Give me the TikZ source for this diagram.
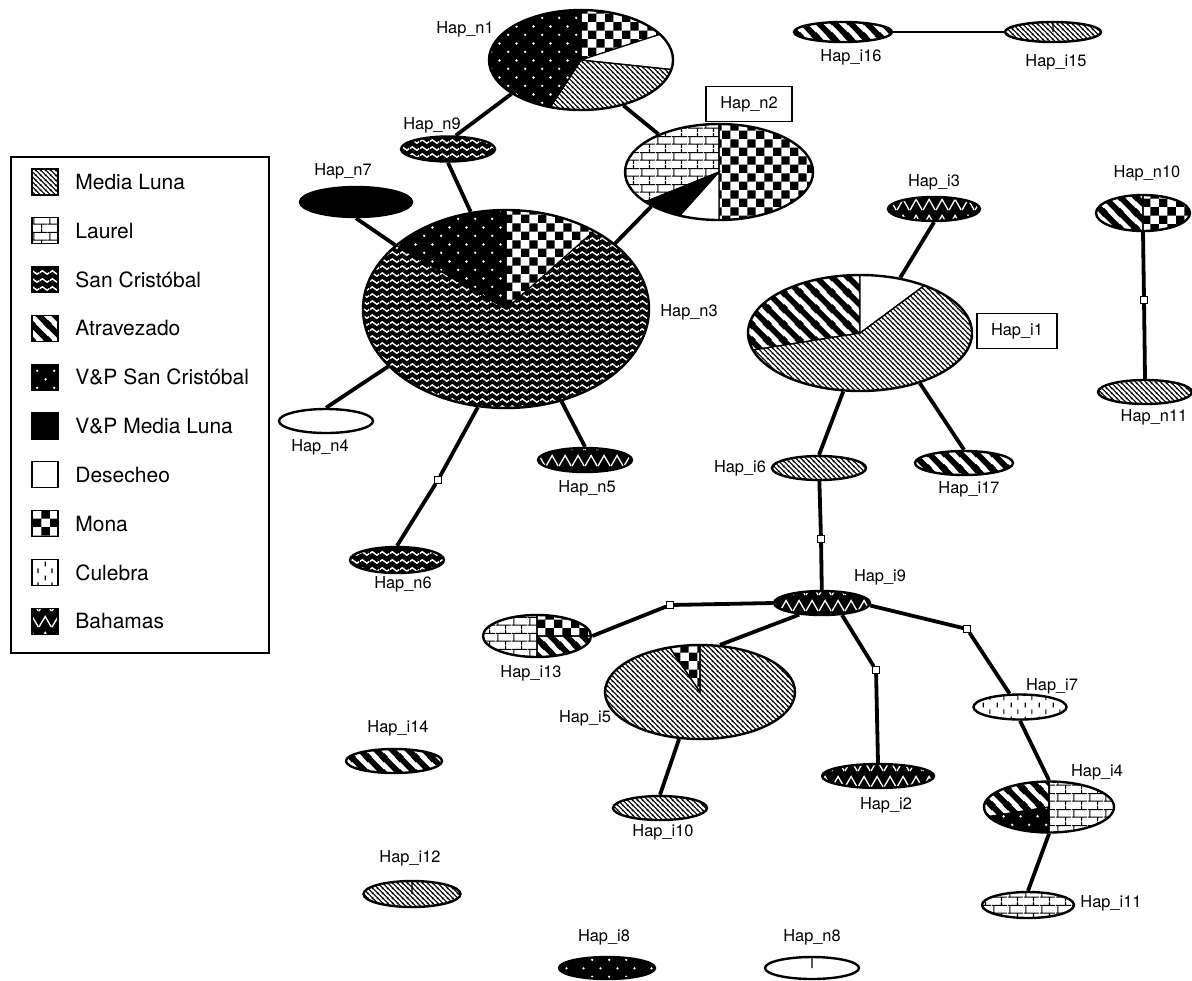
\documentclass[tikz,border=0pt]{standalone}
\usepackage{fontspec}
\setmainfont{TeX Gyre Heros}
\usetikzlibrary{patterns,shapes.geometric,calc}

\pgfdeclarepatternformonly{lunalines}{\pgfqpoint{0pt}{0pt}}{\pgfqpoint{2.6pt}{2.6pt}}{\pgfqpoint{2.6pt}{2.6pt}}{%
  \pgfsetlinewidth{0.6pt}%
  \pgfpathmoveto{\pgfqpoint{-0.5pt}{3.1pt}}\pgfpathlineto{\pgfqpoint{3.1pt}{-0.5pt}}%
  \pgfpathmoveto{\pgfqpoint{-0.5pt}{0.5pt}}\pgfpathlineto{\pgfqpoint{0.5pt}{-0.5pt}}%
  \pgfpathmoveto{\pgfqpoint{2.1pt}{3.1pt}}\pgfpathlineto{\pgfqpoint{3.1pt}{2.1pt}}%
  \pgfusepath{stroke}}
\pgfdeclarepatternformonly{atravstripes}{\pgfqpoint{0pt}{0pt}}{\pgfqpoint{8pt}{8pt}}{\pgfqpoint{8pt}{8pt}}{%
  \pgfsetlinewidth{3pt}%
  \pgfpathmoveto{\pgfqpoint{-2pt}{10pt}}\pgfpathlineto{\pgfqpoint{10pt}{-2pt}}%
  \pgfpathmoveto{\pgfqpoint{-2pt}{2pt}}\pgfpathlineto{\pgfqpoint{2pt}{-2pt}}%
  \pgfpathmoveto{\pgfqpoint{6pt}{10pt}}\pgfpathlineto{\pgfqpoint{10pt}{6pt}}%
  \pgfusepath{stroke}}
\pgfdeclarepatternformonly{monachecks}{\pgfqpoint{0pt}{0pt}}{\pgfqpoint{8.4pt}{8.4pt}}{\pgfqpoint{8.4pt}{8.4pt}}{%
  \pgfpathrectangle{\pgfqpoint{0pt}{0pt}}{\pgfqpoint{4.2pt}{4.2pt}}%
  \pgfpathrectangle{\pgfqpoint{4.2pt}{4.2pt}}{\pgfqpoint{4.2pt}{4.2pt}}%
  \pgfusepath{fill}}
\pgfdeclarepatternformonly{sancriswaves}{\pgfqpoint{0pt}{0pt}}{\pgfqpoint{5pt}{3.7pt}}{\pgfqpoint{5pt}{3.7pt}}{%
  \pgfsetlinewidth{0.75pt}%
  \pgfpathmoveto{\pgfqpoint{0pt}{1.85pt}}%
  \pgfpathcurveto{\pgfqpoint{0.83pt}{3.05pt}}{\pgfqpoint{1.67pt}{3.05pt}}{\pgfqpoint{2.5pt}{1.85pt}}%
  \pgfpathcurveto{\pgfqpoint{3.33pt}{0.65pt}}{\pgfqpoint{4.17pt}{0.65pt}}{\pgfqpoint{5pt}{1.85pt}}%
  \pgfusepath{stroke}}
\pgfdeclarepatternformonly{vpdots}{\pgfqpoint{0pt}{0pt}}{\pgfqpoint{8.4pt}{8.4pt}}{\pgfqpoint{8.4pt}{8.4pt}}{%
  \pgfpathcircle{\pgfqpoint{2.1pt}{2.1pt}}{0.65pt}%
  \pgfpathcircle{\pgfqpoint{6.3pt}{6.3pt}}{0.65pt}%
  \pgfusepath{fill}}
\pgfdeclarepatternformonly{culebraticks}{\pgfqpoint{0pt}{0pt}}{\pgfqpoint{7pt}{7pt}}{\pgfqpoint{7pt}{7pt}}{%
  \pgfsetlinewidth{0.65pt}%
  \pgfpathmoveto{\pgfqpoint{1.75pt}{4pt}}\pgfpathlineto{\pgfqpoint{1.75pt}{6.5pt}}%
  \pgfpathmoveto{\pgfqpoint{5.25pt}{0.5pt}}\pgfpathlineto{\pgfqpoint{5.25pt}{3pt}}%
  \pgfusepath{stroke}}
\pgfdeclarepatternformonly{bahamaszig}{\pgfqpoint{0pt}{0pt}}{\pgfqpoint{6.5pt}{8pt}}{\pgfqpoint{6.5pt}{8pt}}{%
  \pgfsetlinewidth{0.7pt}%
  \pgfpathmoveto{\pgfqpoint{0pt}{1pt}}\pgfpathlineto{\pgfqpoint{3.25pt}{6.5pt}}\pgfpathlineto{\pgfqpoint{6.5pt}{1pt}}%
  \pgfusepath{stroke}}
\pgfdeclarepatternformonly{laurelbricks}{\pgfqpoint{0pt}{0pt}}{\pgfqpoint{8pt}{8pt}}{\pgfqpoint{8pt}{8pt}}{%
  \pgfsetlinewidth{0.55pt}%
  \pgfpathmoveto{\pgfqpoint{0pt}{2pt}}\pgfpathlineto{\pgfqpoint{8pt}{2pt}}%
  \pgfpathmoveto{\pgfqpoint{0pt}{6pt}}\pgfpathlineto{\pgfqpoint{8pt}{6pt}}%
  \pgfpathmoveto{\pgfqpoint{1pt}{2pt}}\pgfpathlineto{\pgfqpoint{1pt}{6pt}}%
  \pgfpathmoveto{\pgfqpoint{5pt}{6pt}}\pgfpathlineto{\pgfqpoint{5pt}{8pt}}%
  \pgfpathmoveto{\pgfqpoint{5pt}{0pt}}\pgfpathlineto{\pgfqpoint{5pt}{2pt}}%
  \pgfusepath{stroke}}

\tikzset{
  luna/.style={pattern=lunalines, pattern color=black},
  laurel/.style={pattern=laurelbricks, pattern color=black},
  sancris/.style={preaction={fill=black}, pattern=sancriswaves, pattern color=white},
  atrav/.style={pattern=atravstripes, pattern color=black},
  vpsc/.style={preaction={fill=black}, pattern=vpdots, pattern color=white},
  vpluna/.style={fill=black},
  desecheo/.style={fill=white},
  mona/.style={pattern=monachecks, pattern color=black},
  culebra/.style={pattern=culebraticks, pattern color=black},
  bahamas/.style={preaction={fill=black}, pattern=bahamaszig, pattern color=white},
}

\begin{document}
\begin{tikzpicture}[
  x=0.5pt, y=-0.5pt,
  hap/.style={ellipse, draw, line width=1.2pt, inner sep=0pt},
  semi/.style 2 args={minimum width=#1pt, minimum height=#2pt},
  pie/.style={path picture={
    \foreach \sa/\sb/\sty in {#1} {
      \path[\sty, draw=black, line width=0.6pt] (path picture bounding box.center)
        \foreach \k in {0,...,18} { -- ($(path picture bounding box.center)+({\sa+(\sb-\sa)*\k/18}:300)$) } -- cycle;
    }}},
  mut/.style={rectangle, draw, fill=white, line width=0.6pt, minimum size=3.2pt, inner sep=0pt},
  link/.style={line width=1.9pt},
  thinlink/.style={line width=1.2pt},
  lbl/.style={font=\fontsize{8.2}{10}\selectfont, inner sep=1pt},
  boxlbl/.style={lbl, draw, line width=0.8pt, inner xsep=7pt, minimum height=17.5pt},
  swatch/.style={rectangle, draw, line width=0.6pt, minimum size=13pt, inner sep=0pt},
  legtxt/.style={font=\fontsize{10.5}{12}\selectfont, anchor=west, inner sep=0pt}
]
\useasboundingbox (0,0) rectangle (1192,980);

% legend
\node[rectangle, draw, line width=0.6pt, minimum width=129pt, minimum height=248pt] (legend) at (140,405) {};
\foreach \sty/\txt [count=\i from 0] in {luna/Media Luna, laurel/Laurel, sancris/San Cristóbal,
    atrav/Atravezado, vpsc/V\&P San Cristóbal, vpluna/V\&P Media Luna, desecheo/Desecheo,
    mona/Mona, culebra/Culebra, bahamas/Bahamas} {
  \node[swatch, \sty] (sw\i) at (45,{182+48.8*\i}) {};
  \node[legtxt] (lt\i) at (75,{182+48.8*\i}) {\txt};
}

% haplotypes
\node[hap, semi={92}{50}, pie={-90/-18/mona, -18/6/desecheo, 6/123/luna, 123/270/vpsc}] (n1) at (581,60) {};
\node[hap, semi={94}{48}, pie={-90/90/mona, 90/132/desecheo, 132/158/vpluna, 158/270/laurel}] (n2) at (719,172) {};
\node[hap, sancris, semi={47}{12.5}] (n9) at (448,149) {};
\node[hap, vpluna, semi={56}{15}] (n7) at (356,202) {};
\node[hap, semi={143}{99}, pie={210/270/vpsc, 270/318.5/mona, 318.5/570/sancris}] (n3) at (506,309) {};
\node[hap, desecheo, semi={47}{12}] (n4) at (326,421) {};
\node[hap, bahamas, semi={47}{12}] (n5) at (585,460) {};
\node[hap, sancris, semi={47}{13}] (n6) at (397,560) {};
\node[hap, atrav, semi={49}{10}] (i16) at (843,32) {};
\node[hap, semi={48}{10}, pie={-90/270/luna}] (i15) at (1053,32) {};
\node[hap, bahamas, semi={46}{12}] (i3) at (934,209) {};
\node[hap, semi={47}{18}, pie={90/270/atrav, -90/90/mona}] (n10) at (1143,213) {};
\node[hap, luna, semi={47}{12}] (n11) at (1145,392) {};
\node[hap, semi={112}{58}, pie={171/270/atrav, 270/323.5/desecheo, -36.5/171/luna}] (i1) at (860,333) {};
\node[hap, luna, semi={47}{12}] (i6) at (819,468) {};
\node[hap, atrav, semi={49}{12}] (i17) at (964,463) {};
\node[hap, bahamas, semi={48}{12}] (i9) at (822,603) {};
\node[hap, semi={54}{21}, pie={90/270/laurel, -90/0/mona, 0/90/atrav}] (i13) at (537,636) {};
\node[hap, semi={95}{47}, pie={235.7/270/mona, -90/235.7/luna}] (i5) at (700,692) {};
\node[hap, culebra, semi={46.5}{12.5}] (i7) at (1020,707) {};
\node[hap, bahamas, semi={56}{12}] (i2) at (878,776) {};
\node[hap, semi={65}{25.5}, pie={-90/90/laurel, 90/171/vpsc, 171/270/atrav}] (i4) at (1049,807) {};
\node[hap, luna, semi={47}{12}] (i10) at (660,808) {};
\node[hap, laurel, semi={46}{13}] (i11) at (1028,905) {};
\node[hap, atrav, semi={48}{12}] (i14) at (394,761) {};
\node[hap, semi={48.5}{13}, pie={-90/270/luna}] (i12) at (412,894) {};
\node[hap, vpsc, semi={48}{11}] (i8) at (607,968) {};
\node[hap, semi={47}{11}, pie={-90/270/desecheo}] (n8) at (812,968) {};

% mutation steps
\node[mut] (m1) at (438,480) {};
\node[mut] (m2) at (821,539) {};
\node[mut] (m3) at (670,605) {};
\node[mut] (m4) at (876,670) {};
\node[mut] (m5) at (967,629) {};
\node[mut] (m6) at (1144,300) {};

% links
\draw[link] (n1.206) -- (n9.60);
\draw[link] (n1.313) -- (n2.148);
\draw[link] (n9.south) -- (n3.110);
\draw[link] (n7.south) -- (n3.150);
\draw[link] (n2.207) -- (n3.31);
\draw[link] (n3.206) -- (n4.north);
\draw[link] (n3.301) -- (n5.north);
\draw[link] (n3.254) -- (m1) -- (n6.north);
\draw[thinlink] (i16) -- (i15);
\draw[link] (i3.south) -- (i1.54);
\draw[link] (i1.254) -- (i6.north);
\draw[link] (i1.320) -- (i17.north);
\draw[link] (i6) -- (m2) -- (i9);
\draw[link] (i9.west) -- (m3) -- (i13.east);
\draw[link] (i9.207) -- (i5.67);
\draw[link] (i9.329) -- (m4) -- (i2.north);
\draw[link] (i9.357) -- (m5) -- (i7.128);
\draw[link] (i7.south) -- (i4.north);
\draw[link] (i4.south) -- (i11.north);
\draw[link] (i5.246) -- (i10.north);
\draw[link] (n10.south) -- (m6) -- (n11.north);

% labels
\node[lbl] (ln1) at (465,29) {Hap\_n1};
\node[boxlbl] (ln2) at (749,104) {Hap\_n2};
\node[lbl] (ln9) at (432,125) {Hap\_n9};
\node[lbl] (ln7) at (343,171) {Hap\_n7};
\node[lbl] (ln3) at (689,312) {Hap\_n3};
\node[lbl] (ln4) at (320,447) {Hap\_n4};
\node[lbl] (ln5) at (587,488) {Hap\_n5};
\node[lbl] (ln6) at (403,584) {Hap\_n6};
\node[lbl] (li16) at (851,57) {Hap\_i16};
\node[lbl] (li15) at (1056,62) {Hap\_i15};
\node[lbl] (li3) at (934,182) {Hap\_i3};
\node[lbl] (ln10) at (1147,173) {Hap\_n10};
\node[boxlbl] (li1) at (1017,331) {Hap\_i1};
\node[lbl] (ln11) at (1154,417) {Hap\_n11};
\node[lbl] (li6) at (740,468) {Hap\_i6};
\node[lbl] (li17) at (969,489) {Hap\_i17};
\node[lbl] (li9) at (880,577) {Hap\_i9};
\node[lbl] (li13) at (531,673) {Hap\_i13};
\node[lbl] (li5) at (585,718) {Hap\_i5};
\node[lbl] (li7) at (1052,686) {Hap\_i7};
\node[lbl] (li4) at (1097,772) {Hap\_i4};
\node[lbl] (li2) at (886,805) {Hap\_i2};
\node[lbl] (li10) at (663,832) {Hap\_i10};
\node[lbl] (li11) at (1111,903) {Hap\_i11};
\node[lbl] (li14) at (398,728) {Hap\_i14};
\node[lbl] (li12) at (410,858) {Hap\_i12};
\node[lbl] (li8) at (604,937) {Hap\_i8};
\node[lbl] (ln8) at (812,937) {Hap\_n8};
\end{tikzpicture}
\end{document}
